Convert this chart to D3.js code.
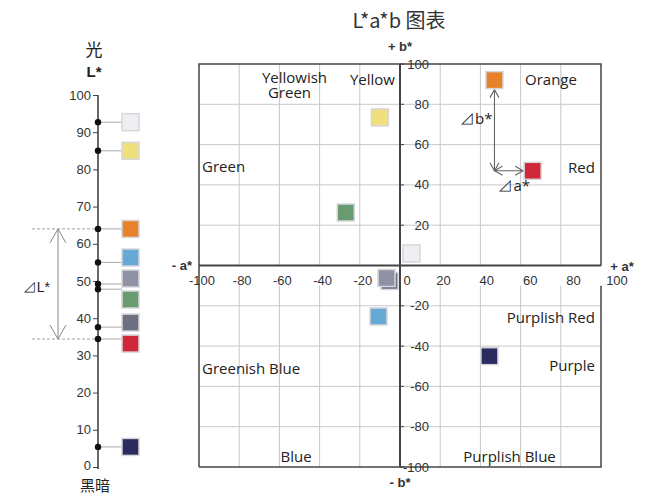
<!DOCTYPE html>
<html lang="zh">
<head>
  <meta charset="UTF-8">
  <title>L*a*b 图表</title>
  <script src="https://d3js.org/d3.v7.min.js"></script>
  <style>
    body { margin: 0; background: #fff; }
    svg { display: block; }
    .tick-label { font-family: "Liberation Sans", Arial, sans-serif; font-size: 13px; fill: #333; }
    .region { font-family: "Open Sans", sans-serif; font-size: 15px; fill: #222; }
    .axis-name { font-family: "Liberation Sans", Arial, sans-serif; font-size: 13px; font-weight: bold; fill: #333; }
    .cjk { font-family: "Noto Sans CJK SC", sans-serif; fill: #222; }
  </style>
</head>
<body>
<div id="chart"></div>
<script>
  // sample colours (ordered from light to dark)
  const sampleNames = ["White", "Yellow", "Orange", "Blue", "Gray", "Green", "Dark Gray", "Red", "Navy"];
  const lValues = [92.7, 85, 64, 55, 49.2, 47.8, 37.6, 34.4, 5.4];
  const aValues = [5.7, -10, 47, -10.7, -6.7, -27, -5.2, 66, 44.5];
  const bValues = [6, 73.5, 92, -25.3, -6.2, 26.3, -7.7, 47, -45];
  const sampleColors = ["#efeff1", "#f0e07c", "#e8822a", "#66a8d6", "#8f92a4", "#6a9a70", "#6c7080", "#d0283a", "#2c2b5e"];

  // tick values
  const lTicks = [0, 10, 20, 30, 40, 50, 60, 70, 80, 90, 100];
  const abTicks = [-100, -80, -60, -40, -20, 0, 20, 40, 60, 80, 100];

  // colour-region labels [text line(s), a, b, anchor]
  const regionLabels = [
    [["Yellowish", "Green"], -52.5, 90.5, "middle"],
    [["Yellow"], -2.5, 89.8, "end"],
    [["Green"], -98.5, 46.2, "start"],
    [["Orange"], 62.2, 89.8, "start"],
    [["Red"], 97, 46, "end"],
    [["Greenish Blue"], -98.5, -53.6, "start"],
    [["Blue"], -51.7, -97.3, "middle"],
    [["Purplish Red"], 97, -28.3, "end"],
    [["Purple"], 97, -52.6, "end"],
    [["Purplish Blue"], 54.5, -97.3, "middle"]
  ];

  const W = 658, H = 495;
  const svg = d3.select("#chart").append("svg")
    .attr("width", W).attr("height", H);

  // ---------- L* scale (left) ----------
  const yL = d3.scaleLinear().domain([0, 100]).range([467, 95]);
  const lAxisX = 98;
  const swX = 122, sw = 17;

  svg.append("text").attr("class", "cjk").attr("x", 94).attr("y", 56)
     .attr("text-anchor", "middle").style("font-size", "17px").text("光");
  svg.append("text").attr("x", 94).attr("y", 77).attr("text-anchor", "middle")
     .style("font-family", "Liberation Sans, Arial, sans-serif").style("font-size", "15px")
     .style("font-weight", "bold").style("fill", "#222").text("L*");
  svg.append("text").attr("class", "cjk").attr("x", 95).attr("y", 490.5)
     .attr("text-anchor", "middle").style("font-size", "15px").text("黑暗");

  const lAxis = svg.append("g").attr("transform", `translate(${lAxisX},0)`)
    .call(d3.axisLeft(yL).tickValues(lTicks).tickSize(5).tickPadding(2));
  lAxis.select(".domain").attr("stroke", "#444").attr("stroke-width", 1.6)
       .attr("d", `M0,${yL(100)}V${yL(0) + 2}`);
  lAxis.selectAll(".tick line").attr("stroke", "#444");
  lAxis.selectAll(".tick text").attr("class", "tick-label").attr("fill", null)
       .attr("dy", d => d === 0 ? "0.2em" : "0.32em");

  // delta L* bracket
  const lHi = lValues[2], lLo = lValues[7];
  [lHi, lLo].forEach(v => {
    svg.append("line").attr("x1", 32).attr("x2", lAxisX).attr("y1", yL(v)).attr("y2", yL(v))
       .attr("stroke", "#888").attr("stroke-width", 0.8).attr("stroke-dasharray", "3,2");
  });
  const arrowX = 58;
  svg.append("path")
     .attr("d", `M${arrowX},${yL(lHi)}V${yL(lLo)}` +
                `M${arrowX - 8},${yL(lHi) + 14}L${arrowX},${yL(lHi)}L${arrowX + 8},${yL(lHi) + 14}` +
                `M${arrowX - 8},${yL(lLo) - 14}L${arrowX},${yL(lLo)}L${arrowX + 8},${yL(lLo) - 14}`)
     .attr("fill", "none").attr("stroke", "#888").attr("stroke-width", 1);
  svg.append("text").attr("x", 50).attr("y", 292).attr("text-anchor", "end")
     .style("font-family", "Liberation Sans, Arial, sans-serif").style("font-size", "14px")
     .style("fill", "#222").text("⊿L*");

  // spread swatches so they do not overlap
  const minGap = 21;
  const swY = lValues.map(v => yL(v));
  for (let it = 0; it < 200; it++) {
    for (let i = 1; i < swY.length; i++) {
      const gap = swY[i] - swY[i - 1];
      if (gap < minGap) {
        const d = (minGap - gap) / 2;
        swY[i - 1] -= d; swY[i] += d;
      }
    }
  }

  const lg = svg.append("g");
  lValues.forEach((v, i) => {
    lg.append("line").attr("x1", lAxisX).attr("x2", swX).attr("y1", yL(v)).attr("y2", yL(v))
      .attr("stroke", "#aaa").attr("stroke-width", 1);
  });
  lValues.forEach((v, i) => {
    lg.append("rect").attr("x", swX).attr("y", swY[i] - sw / 2).attr("width", sw).attr("height", sw)
      .attr("fill", sampleColors[i]).attr("stroke", "#d6d6dc").attr("stroke-width", 1.5);
  });
  lValues.forEach(v => {
    lg.append("circle").attr("cx", lAxisX).attr("cy", yL(v)).attr("r", 3.2).attr("fill", "#111");
  });

  // ---------- a*b* plane ----------
  const x = d3.scaleLinear().domain([-100, 100]).range([199, 601]);
  const y = d3.scaleLinear().domain([-100, 100]).range([467, 64]);
  const gapB = -10; // lower half lines start below the a* tick labels

  svg.append("text").attr("class", "cjk").attr("x", 399).attr("y", 28)
     .attr("text-anchor", "middle").style("font-size", "20px").style("fill", "#333")
     .text("L*a*b 图表");

  const grid = svg.append("g").attr("stroke", "#c8c8c8").attr("stroke-width", 1);
  abTicks.filter(t => t !== 0 && Math.abs(t) !== 100).forEach(t => {
    // vertical lines
    grid.append("line").attr("x1", x(t)).attr("x2", x(t)).attr("y1", y(100)).attr("y2", y(0));
    grid.append("line").attr("x1", x(t)).attr("x2", x(t)).attr("y1", y(gapB)).attr("y2", y(-100));
    // horizontal lines
    grid.append("line").attr("x1", x(-100)).attr("x2", x(100)).attr("y1", y(t)).attr("y2", y(t));
  });

  const frame = svg.append("g").attr("stroke", "#444").attr("stroke-width", 1.5).attr("fill", "none");
  frame.append("path").attr("d",
    `M${x(-100)},${y(-100)}V${y(100)}H${x(100)}V${y(0)}` +
    `M${x(100)},${y(gapB)}V${y(-100)}H${x(-100)}`);
  frame.append("line").attr("x1", x(-100)).attr("x2", x(100)).attr("y1", y(0)).attr("y2", y(0))
       .attr("stroke-width", 2);
  frame.append("line").attr("x1", x(0)).attr("x2", x(0)).attr("y1", y(100)).attr("y2", y(-100))
       .attr("stroke-width", 2);

  // b* tick marks and labels
  abTicks.filter(t => t !== 0).forEach(t => {
    svg.append("line").attr("x1", x(0)).attr("x2", x(0) + 4).attr("y1", y(t)).attr("y2", y(t))
       .attr("stroke", "#444").attr("stroke-width", 1);
    svg.append("text").attr("class", "tick-label").attr("x", x(0) + 29).attr("y", y(t))
       .attr("dy", "0.35em").attr("text-anchor", "end").text(t);
  });
  // a* labels
  abTicks.forEach(t => {
    const dx = t === 0 ? 7 : (t > 0 ? t * 0.16 : 3);
    svg.append("text").attr("class", "tick-label").attr("x", x(t) + dx).attr("y", y(0) + 19)
       .attr("text-anchor", "middle").text(t);
  });

  svg.append("text").attr("class", "axis-name").attr("x", x(0)).attr("y", 51)
     .attr("text-anchor", "middle").text("+ b*");
  svg.append("text").attr("class", "axis-name").attr("x", x(0)).attr("y", 487)
     .attr("text-anchor", "middle").text("- b*");
  svg.append("text").attr("class", "axis-name").attr("x", x(-100) - 7).attr("y", y(0) + 4)
     .attr("text-anchor", "end").text("- a*");
  svg.append("text").attr("class", "axis-name").attr("x", x(100) + 21).attr("y", y(0) + 5)
     .attr("text-anchor", "middle").text("+ a*");

  // region labels
  regionLabels.forEach(([lines, a, b, anchor]) => {
    const t = svg.append("text").attr("class", "region").attr("text-anchor", anchor)
      .attr("x", x(a)).attr("y", y(b));
    lines.forEach((s, k) => {
      t.append("tspan").attr("x", x(a) - (k > 0 ? 5 : 0)).attr("dy", k > 0 ? 15 : 0).text(s);
    });
  });

  // delta a*, delta b* arrows between orange and red
  const oi = 2, ri = 7;
  const cx = x(aValues[oi]), cy = y(bValues[ri]);
  const topY = y(bValues[oi]) + sw / 2 + 1;
  const rightX = x(aValues[ri]) - sw / 2 - 1;
  const ah = 8, aw = 4.5;
  svg.append("path")
     .attr("d",
       `M${cx},${topY}V${cy}H${rightX}` +
       `M${cx - aw},${topY + ah}L${cx},${topY}L${cx + aw},${topY + ah}` +
       `M${cx - aw},${cy - ah}L${cx},${cy}L${cx + aw},${cy - ah}` +
       `M${cx + ah},${cy - aw}L${cx},${cy}L${cx + ah},${cy + aw}` +
       `M${rightX - ah},${cy - aw}L${rightX},${cy}L${rightX - ah},${cy + aw}`)
     .attr("fill", "none").attr("stroke", "#666").attr("stroke-width", 1.1);
  svg.append("text").attr("class", "region").attr("x", cx - 2).attr("y", y(70))
     .attr("text-anchor", "end").style("font-size", "15px").text("⊿b*");
  svg.append("text").attr("class", "region").attr("x", cx + 4).attr("y", y(37))
     .attr("text-anchor", "start").style("font-size", "15px").text("⊿a*");

  // sample squares on the a*b* plane (dark gray drawn under gray)
  const drawOrder = [6, 0, 1, 2, 3, 4, 5, 7, 8];
  drawOrder.forEach(i => {
    svg.append("rect").attr("x", x(aValues[i]) - sw / 2).attr("y", y(bValues[i]) - sw / 2)
       .attr("width", sw).attr("height", sw)
       .attr("fill", sampleColors[i]).attr("stroke", "#d6d6dc").attr("stroke-width", 1.5);
  });
</script>
</body>
</html>
